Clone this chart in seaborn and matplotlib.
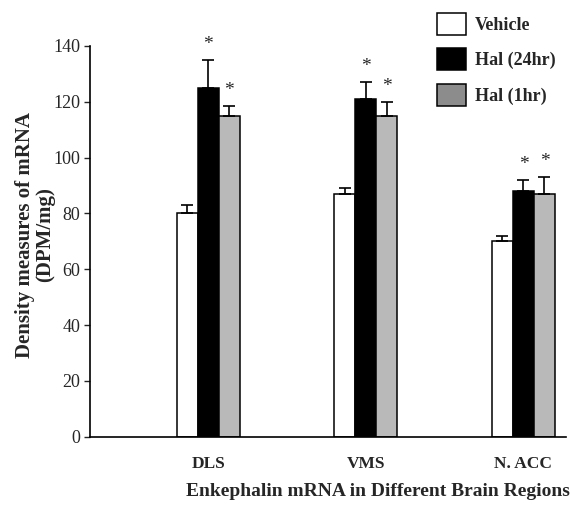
import matplotlib
matplotlib.use("Agg")
import matplotlib.pyplot as plt
import seaborn as sns
import pandas as pd
import numpy as np
from matplotlib.patches import Patch

regions = ["DLS", "VMS", "N. ACC"]
groups = ["Vehicle", "Hal (24hr)", "Hal (1hr)"]
vehicle = [80, 87, 70]
hal24 = [125, 121, 88]
hal1 = [115, 115, 87]
err_vehicle = [3, 2, 2]
err_hal24 = [10, 6, 4]
err_hal1 = [3.5, 5, 6]
yticks = [0, 20, 40, 60, 80, 100, 120, 140]

sns.set_style("white")
plt.rcParams['font.family'] = ['Liberation Serif', 'DejaVu Serif']

rows = []
for g, vals, errs in [(groups[0], vehicle, err_vehicle), (groups[1], hal24, err_hal24), (groups[2], hal1, err_hal1)]:
    for r, v, e in zip(regions, vals, errs):
        rows.append({"region": r, "group": g, "value": v, "err": e})
df = pd.DataFrame(rows)

bar_colors = {"Vehicle": "#ffffff", "Hal (24hr)": "#000000", "Hal (1hr)": "#b9b9b9"}
legend_colors = {"Vehicle": "#ffffff", "Hal (24hr)": "#000000", "Hal (1hr)": "#8c8c8c"}

fig = plt.figure(figsize=(5.7, 5.05), dpi=100)
ax = fig.add_axes([0.158, 0.135, 0.835, 0.774])

sns.barplot(data=df, x="region", y="value", hue="group", order=regions, hue_order=groups,
            palette=bar_colors, width=0.4, errorbar=None, edgecolor="black", linewidth=1.1,
            ax=ax, legend=False)

for cont, g in zip(ax.containers, groups):
    sub = df[df.group == g].set_index("region").loc[regions]
    xs = [p.get_x() + p.get_width() / 2 for p in cont.patches]
    ys = sub["value"].values
    es = sub["err"].values
    ax.errorbar(xs, ys, yerr=[np.zeros_like(es), es], fmt="none", ecolor="black",
                elinewidth=1.2, capsize=4, capthick=1.2)
    if g != "Vehicle":
        for x, y, e in zip(xs, ys, es):
            ax.text(x, y + e + 2.5, "*", ha="center", va="bottom", fontsize=14)

ax.set_ylim(0, 140)
ax.set_xlim(-0.75, 2.27)
ax.set_yticks(yticks)
ax.set_yticklabels([str(t) for t in yticks], fontsize=13)
ax.tick_params(axis="y", direction="out", length=4, width=1, left=True, pad=3)
ax.tick_params(axis="x", length=0, pad=14)
for lab in ax.get_xticklabels():
    lab.set_fontsize(12.5)
    lab.set_fontweight("bold")
ax.set_xlabel("")
ax.set_ylabel("")
sns.despine(ax=ax)
ax.spines["left"].set_linewidth(1.2)
ax.spines["bottom"].set_linewidth(1.2)
ax.spines["left"].set_color("black")
ax.spines["bottom"].set_color("black")

fig.text(0.062, 0.535, "Density measures of mRNA\n(DPM/mg)", rotation=90, ha="center", va="center",
         fontsize=15, fontweight="bold", linespacing=1.0)
fig.text(0.663, 0.026, "Enkephalin mRNA in Different Brain Regions", ha="center", va="center",
         fontsize=14, fontweight="bold")

handles = [Patch(facecolor=legend_colors[g], edgecolor="black", linewidth=1.1, label=g) for g in groups]
leg = fig.legend(handles=handles, loc="upper left", bbox_to_anchor=(0.745, 1.0), frameon=False,
                 prop={"weight": "bold", "size": 13}, handlelength=1.6, handleheight=1.5,
                 labelspacing=0.75, handletextpad=0.5, borderaxespad=0.3)

fig.savefig("out.png", dpi=100)
